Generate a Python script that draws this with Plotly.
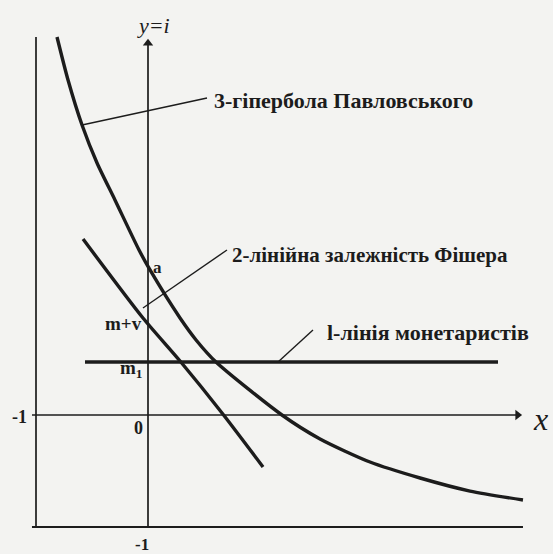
import plotly.graph_objects as go

# Curve 3 - Pavlovsky hyperbola
hyper_x = [-0.8125, -0.714, -0.589, -0.455, -0.295, -0.08, 0.018, 0.286, 0.429, 0.607,
           1.196, 1.536, 1.982, 2.429, 2.875, 3.348]
hyper_y = [3.375, 2.991, 2.589, 2.25, 1.92, 1.473, 1.295, 0.866, 0.67, 0.473,
           0.0, -0.214, -0.42, -0.5625, -0.679, -0.759]

# Curve 2 - Fisher linear dependence
fisher_x = [-0.58, -0.045, 0.286, 0.661, 1.027]
fisher_y = [1.571, 0.866, 0.482, 0.018, -0.464]

# Curve 1 - monetarists line (m1 level)
monet_x = [-0.5625, 3.125]
monet_y = [0.473, 0.473]

# frame lines: x = -1 and y = -1, plus the two axes
left_x = [-1, -1]
left_y = [-1, 3.375]
bottom_x = [-1.036, 3.348]
bottom_y = [-1, -1]
xaxis_x = [-1.036, 3.3]
xaxis_y = [0, 0]
yaxis_x = [0, 0]
yaxis_y = [-1, 3.32]

# leader lines from curves to their captions
lead3_x = [-0.589, 0.527]
lead3_y = [2.589, 2.83]
lead2_x = [-0.045, 0.705]
lead2_y = [0.955, 1.473]
lead1_x = [1.161, 1.473]
lead1_y = [0.473, 0.759]

INK = '#1c1c1c'
BG = '#f3f3f1'
SERIF = 'Liberation Serif'

fig = go.Figure()


def add_line(xs, ys, width, smooth=True):
    fig.add_trace(go.Scatter(
        x=xs, y=ys, mode='lines',
        line=dict(color=INK, width=width,
                  shape='spline' if smooth else 'linear', smoothing=0.7),
        hoverinfo='skip', showlegend=False
    ))


# thin frame / axes
add_line(left_x, left_y, 1.7, smooth=False)
add_line(bottom_x, bottom_y, 2.0, smooth=False)
add_line(xaxis_x, xaxis_y, 1.7, smooth=False)
add_line(yaxis_x, yaxis_y, 1.7, smooth=False)

# leaders
add_line(lead3_x, lead3_y, 1.4, smooth=False)
add_line(lead2_x, lead2_y, 1.4, smooth=False)
add_line(lead1_x, lead1_y, 1.4, smooth=False)

# thick curves
add_line(hyper_x, hyper_y, 3.4)
add_line(fisher_x, fisher_y, 3.4)
add_line(monet_x, monet_y, 3.6, smooth=False)

# axis arrowheads
fig.add_trace(go.Scatter(
    x=[xaxis_x[-1], yaxis_x[-1]], y=[xaxis_y[-1], yaxis_y[-1]], mode='markers',
    marker=dict(symbol=['triangle-right', 'triangle-up'], size=9, color=INK),
    hoverinfo='skip', showlegend=False
))


def label(x, y, text, size=16, anchor='center', italic=False, bold=True):
    fig.add_annotation(x=x, y=y, xref='x', yref='y', text=text, showarrow=False,
                       xanchor=anchor, yanchor='middle',
                       font=dict(family=SERIF, size=size, color=INK,
                                 style='italic' if italic else 'normal',
                                 weight='bold' if bold else 'normal'))


label(0.045, 3.482, 'y=i', size=22, italic=True, bold=False)
label(3.5, -0.04, 'x', size=32, italic=True, bold=False)
label(-1.143, -0.018, '-1', size=18)
label(-0.089, -0.116, '0', size=18)
label(-0.054, -1.152, '-1', size=17)
label(0.089, 1.321, 'a', size=17)
label(-0.223, 0.821, 'm+v', size=19)
label(-0.152, 0.411, 'm<sub>1</sub>', size=19)
label(0.571, 2.8125, '3-гіпербола Павловського', size=22, anchor='left')
label(0.732, 1.429, '2-лінійна залежність Фішера', size=21, anchor='left')
label(1.58, 0.741, 'l-лінія монетаристів', size=22, anchor='left')

fig.update_layout(
    width=553, height=554,
    margin=dict(l=0, r=0, t=0, b=0),
    paper_bgcolor=BG, plot_bgcolor=BG,
    xaxis=dict(range=[-148 / 112, 405 / 112], visible=False, fixedrange=True),
    yaxis=dict(range=[-139 / 112, 415 / 112], visible=False, fixedrange=True),
    showlegend=False
)

fig.write_html(
    "out.html",
    config={'displayModeBar': False},
    post_script="document.body.style.margin='0';document.body.style.background='%s';" % BG
)
